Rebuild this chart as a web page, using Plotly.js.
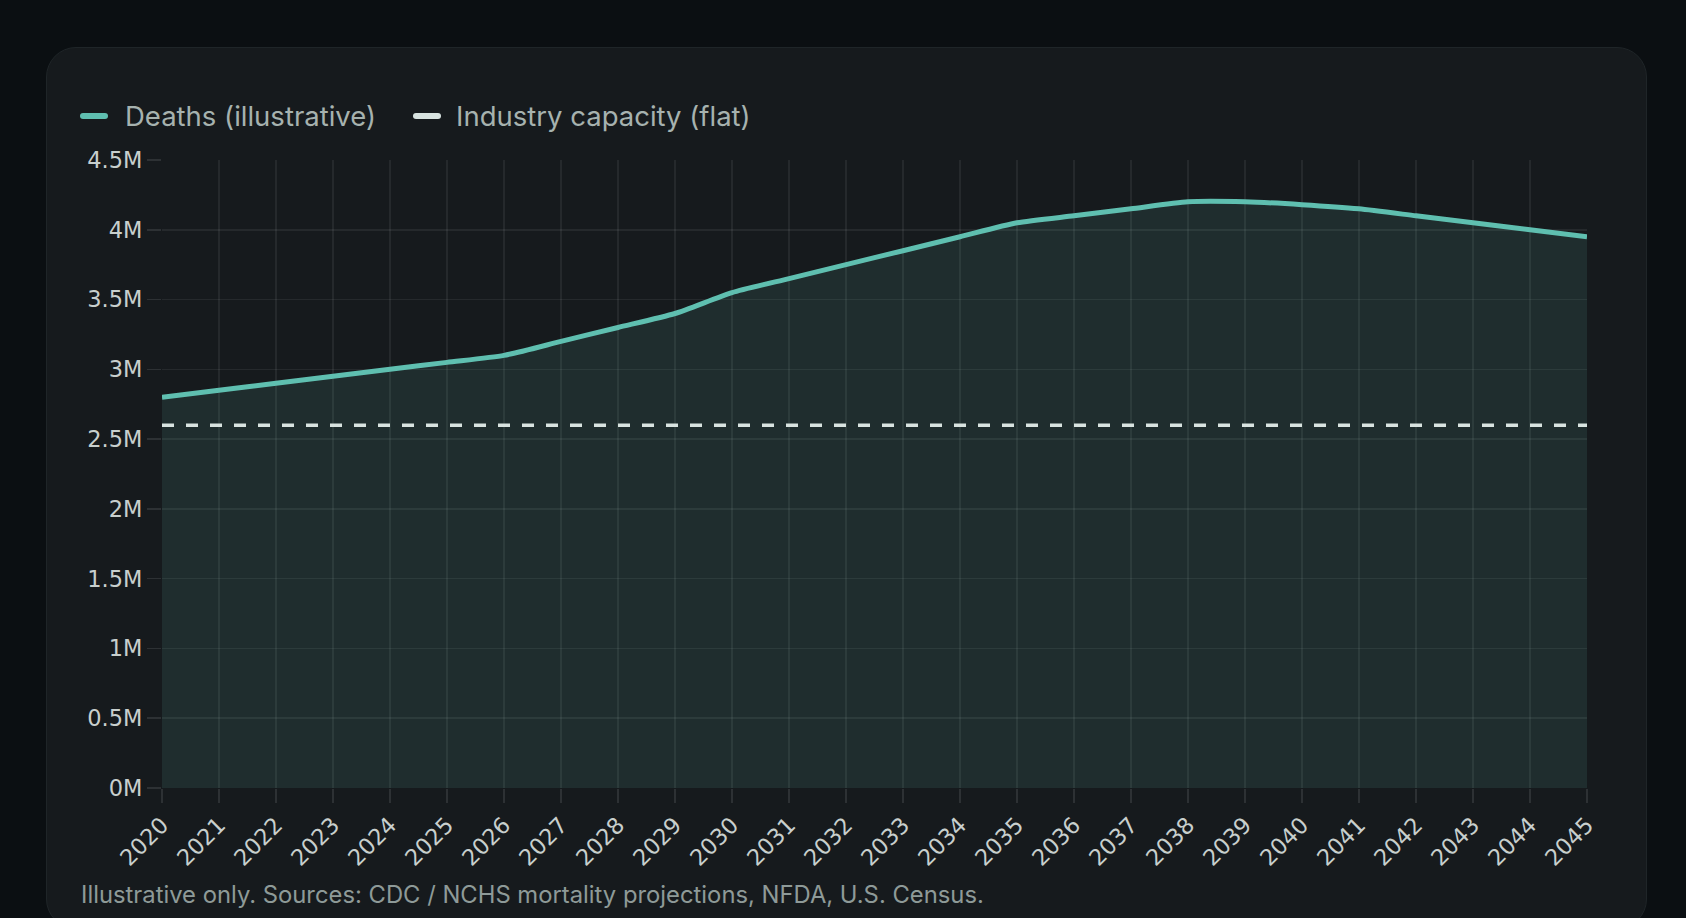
<!DOCTYPE html>
<html>
<head>
<meta charset="utf-8">
<script src="https://cdn.plot.ly/plotly-3.0.1.min.js"></script>
<style>
  html, body { margin: 0; padding: 0; width: 1686px; height: 918px; overflow: hidden; background: #0b0f12; }
  #card { position: absolute; left: 46px; top: 47px; width: 1599px; height: 880px; background: #161a1d; border: 1.5px solid #1f2528; border-radius: 30px; }
  #chart { position: absolute; left: 0; top: 0; width: 1686px; height: 918px; }
</style>
</head>
<body>
<div id="card"></div>
<div id="chart"></div>
<script>
// ---- data ----
const years = [2020, 2021, 2022, 2023, 2024, 2025, 2026, 2027, 2028, 2029, 2030, 2031, 2032,
               2033, 2034, 2035, 2036, 2037, 2038, 2039, 2040, 2041, 2042, 2043, 2044, 2045];
const deaths = [2.80e6, 2.85e6, 2.90e6, 2.95e6, 3.00e6, 3.05e6, 3.10e6, 3.20e6, 3.30e6, 3.40e6,
                3.55e6, 3.65e6, 3.75e6, 3.85e6, 3.95e6, 4.05e6, 4.10e6, 4.15e6, 4.20e6, 4.20e6,
                4.18e6, 4.15e6, 4.10e6, 4.05e6, 4.00e6, 3.95e6];
const capacityLevel = 2.6e6;
const capacity = years.map(() => capacityLevel);
const yTickVals = [0, 0.5e6, 1e6, 1.5e6, 2e6, 2.5e6, 3e6, 3.5e6, 4e6, 4.5e6];
const yTickText = ['0M', '0.5M', '1M', '1.5M', '2M', '2.5M', '3M', '3.5M', '4M', '4.5M'];
const seriesNames = ['Deaths (illustrative)', 'Industry capacity (flat)'];
const footerText = 'Illustrative only. Sources: CDC / NCHS mortality projections, NFDA, U.S. Census.';

// ---- layout helpers (pixel -> paper) ----
const W = 1686, H = 918;
const M = { l: 162, r: 99, t: 160, b: 130 };
const PW = W - M.l - M.r, PH = H - M.t - M.b;
const px = x => (x - M.l) / PW;
const py = y => (H - M.b - y) / PH;

const teal = '#5fbfb0';
const dashCol = '#d8e3e0';
const legendFont = { family: 'Inter, "Noto Sans", sans-serif', size: 27.5, color: '#a6b2af' };

function pill(xLeft, yMid, color) {
  return {
    type: 'path', xref: 'paper', yref: 'paper',
    xsizemode: 'pixel', ysizemode: 'pixel',
    xanchor: px(xLeft), yanchor: py(yMid),
    path: 'M3,-3 H25 Q28,-3 28,0 Q28,3 25,3 H3 Q0,3 0,0 Q0,-3 3,-3 Z',
    fillcolor: color, line: { width: 0 }
  };
}

const traces = [
  {
    x: years, y: deaths, name: seriesNames[0], type: 'scatter', mode: 'lines',
    line: { color: teal, width: 5, shape: 'spline', smoothing: 0.6 },
    fill: 'tozeroy', fillcolor: 'rgba(95,191,176,0.12)',
    hoverinfo: 'x+y'
  },
  {
    x: years, y: capacity, name: seriesNames[1], type: 'scatter', mode: 'lines',
    line: { color: dashCol, width: 3.5, dash: '12px,12px' },
    hoverinfo: 'x+y'
  }
];

const axisFont = { family: '"DejaVu Sans", Verdana, sans-serif', size: 22.5, color: '#c8cfcd' };

const layout = {
  width: W, height: H,
  margin: M,
  paper_bgcolor: 'rgba(0,0,0,0)',
  plot_bgcolor: 'rgba(0,0,0,0)',
  showlegend: false,
  xaxis: {
    type: 'linear', range: [years[0], years[years.length - 1]],
    tickvals: years, ticktext: years.map(String), tickangle: -45,
    tickfont: axisFont,
    showgrid: true, gridcolor: 'rgba(255,255,255,0.065)', gridwidth: 1.5,
    zeroline: false, showline: false,
    ticks: 'outside', ticklen: 14, tickwidth: 1.5, tickcolor: 'rgba(255,255,255,0.10)',
    fixedrange: true
  },
  yaxis: {
    range: [0, 4.5e6],
    tickvals: yTickVals, ticktext: yTickText,
    tickfont: axisFont,
    showgrid: true, gridcolor: 'rgba(255,255,255,0.065)', gridwidth: 1.5,
    zeroline: false, showline: false,
    ticks: 'outside', ticklen: 14, tickwidth: 1.5, tickcolor: 'rgba(255,255,255,0.10)',
    fixedrange: true
  },
  shapes: [pill(80, 116, teal), pill(413, 116, dashCol)],
  annotations: [
    { text: seriesNames[0], xref: 'paper', yref: 'paper', x: px(123), y: py(116),
      xanchor: 'left', yanchor: 'middle', showarrow: false, font: legendFont },
    { text: seriesNames[1], xref: 'paper', yref: 'paper', x: px(454), y: py(116),
      xanchor: 'left', yanchor: 'middle', showarrow: false, font: legendFont },
    { text: footerText, xref: 'paper', yref: 'paper', x: px(79), y: py(894),
      xanchor: 'left', yanchor: 'middle', showarrow: false,
      font: { family: 'Inter, "Noto Sans", sans-serif', size: 23.8, color: '#8e9a98' } }
  ]
};

Plotly.newPlot('chart', traces, layout, { displayModeBar: false, staticPlot: true });
</script>
</body>
</html>
